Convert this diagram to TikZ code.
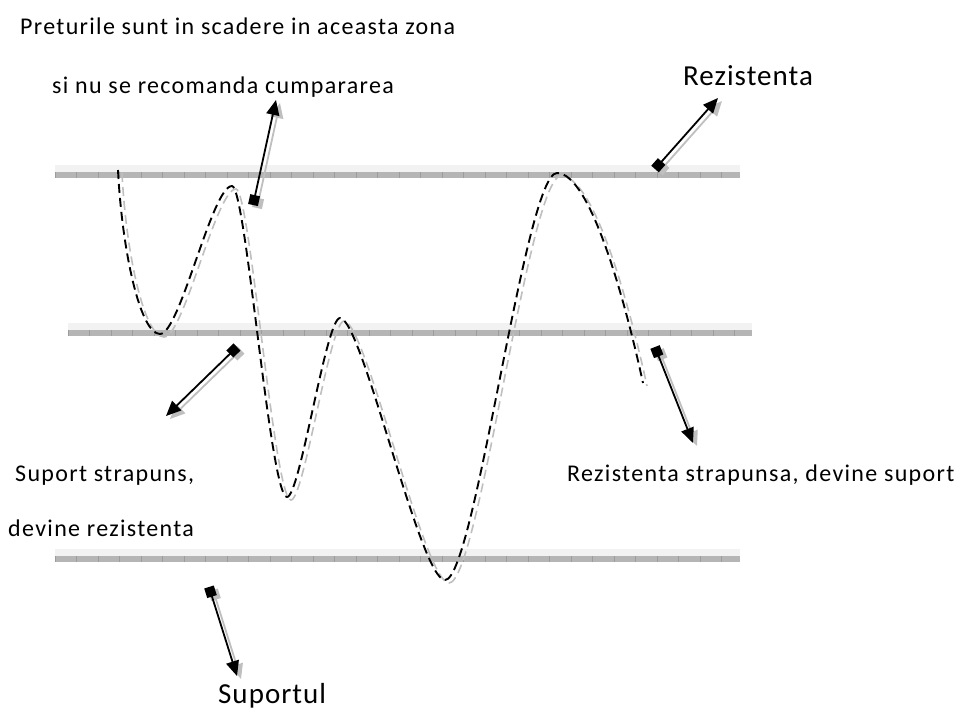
\documentclass[tikz,border=0pt]{standalone}
\usepackage{fontspec}
\setmainfont{Carlito}
\newfontfamily\lblfont[LetterSpace=5.5]{Carlito}
\newfontfamily\biglblfont[LetterSpace=3.5]{Carlito}
\usetikzlibrary{arrows.meta}
\begin{document}
\begin{tikzpicture}[x=1pt,y=-1pt,
  lbl/.style={anchor=base west, inner sep=0pt, font=\lblfont\fontsize{24}{28}\selectfont},
  biglbl/.style={anchor=base west, inner sep=0pt, font=\biglblfont\fontsize{29}{34}\selectfont},
  ptr/.style={line width=1.8pt, {Square[length=10pt,width=10pt]}-{Triangle[length=15pt,width=13pt]}},
  ptrsh/.style={line width=1.8pt, draw=gray!50, {Square[length=10pt,width=10pt,fill=gray!50]}-{Triangle[length=15pt,width=13pt,fill=gray!50]}},
  curve/.style={line width=1.9pt, dash pattern=on 9pt off 5pt},
  curvesh/.style={line width=1.6pt, draw=gray!50, dash pattern=on 9pt off 5pt},
  bartop/.style={fill=gray!10, draw=none},
  barlow/.style={fill=gray!58, draw=none},
  bartick/.style={draw=gray!78, line width=0.6pt}
]
\useasboundingbox (0,0) rectangle (967,723);

% bars
\foreach \xa/\xb/\yy in {55/740/172, 68/752/330, 55/740/556}{
  \fill[bartop] (\xa,\yy-7) rectangle (\xb,\yy);
  \fill[barlow] (\xa,\yy) rectangle (\xb,\yy+6);
  \foreach \k in {0,...,31}{
    \pgfmathsetmacro{\xt}{\xa+21.5*\k}
    \ifdim\xt pt<\xb pt \draw[bartick] (\xt,\yy) -- (\xt,\yy+6);\fi
  }
}

% curve points
\coordinate (p0) at (118,170);
\coordinate (p1) at (160,334);
\coordinate (p2) at (232,186);
\coordinate (p3) at (287,497);
\coordinate (p4) at (340,318);
\coordinate (p5) at (445,580);
\coordinate (p6) at (557,173);
\coordinate (p7) at (643,383);

\begin{scope}[shift={(4,3)}]
\draw[curvesh] (118,170) .. controls (122,250) and (140,334) .. (160,334)
  .. controls (180,334) and (212,186) .. (232,186)
  .. controls (246,186) and (270,497) .. (287,497)
  .. controls (300,497) and (326,318) .. (340,318)
  .. controls (362,318) and (420,580) .. (445,580)
  .. controls (475,580) and (525,173) .. (557,173)
  .. controls (590,173) and (625,300) .. (643,383);
\end{scope}
\draw[curve] (p0) .. controls (122,250) and (140,334) .. (p1)
  .. controls (180,334) and (212,186) .. (p2)
  .. controls (246,186) and (270,497) .. (p3)
  .. controls (300,497) and (326,318) .. (p4)
  .. controls (362,318) and (420,580) .. (p5)
  .. controls (475,580) and (525,173) .. (p6)
  .. controls (590,173) and (625,300) .. (p7);

% arrows
\coordinate (a1s) at (253,205); \coordinate (a1e) at (276,100);
\coordinate (a2s) at (655,169); \coordinate (a2e) at (718,98);
\coordinate (a3s) at (237,347); \coordinate (a3e) at (166,416);
\coordinate (a4s) at (655,347); \coordinate (a4e) at (693,443);
\coordinate (a5s) at (209,587); \coordinate (a5e) at (237,676);

\foreach \s/\e in {a1s/a1e, a2s/a2e, a3s/a3e, a4s/a4e, a5s/a5e}{
  \draw[ptrsh] ([shift={(4,3)}]\s) -- ([shift={(4,3)}]\e);
  \draw[ptr] (\s) -- (\e);
}

% labels
\node[lbl] (t1) at (20,34) {Preturile sunt in scadere in aceasta zona};
\node[lbl] (t2) at (52,93) {si nu se recomanda cumpararea};
\node[biglbl] (t3) at (683,85) {Rezistenta};
\node[lbl] (t4) at (15,481) {Suport strapuns,};
\node[lbl] (t5) at (8,536) {devine rezistenta};
\node[lbl] (t6) at (567,481) {Rezistenta strapunsa, devine suport};
\node[biglbl] (t7) at (218,703) {Suportul};
\end{tikzpicture}
\end{document}
